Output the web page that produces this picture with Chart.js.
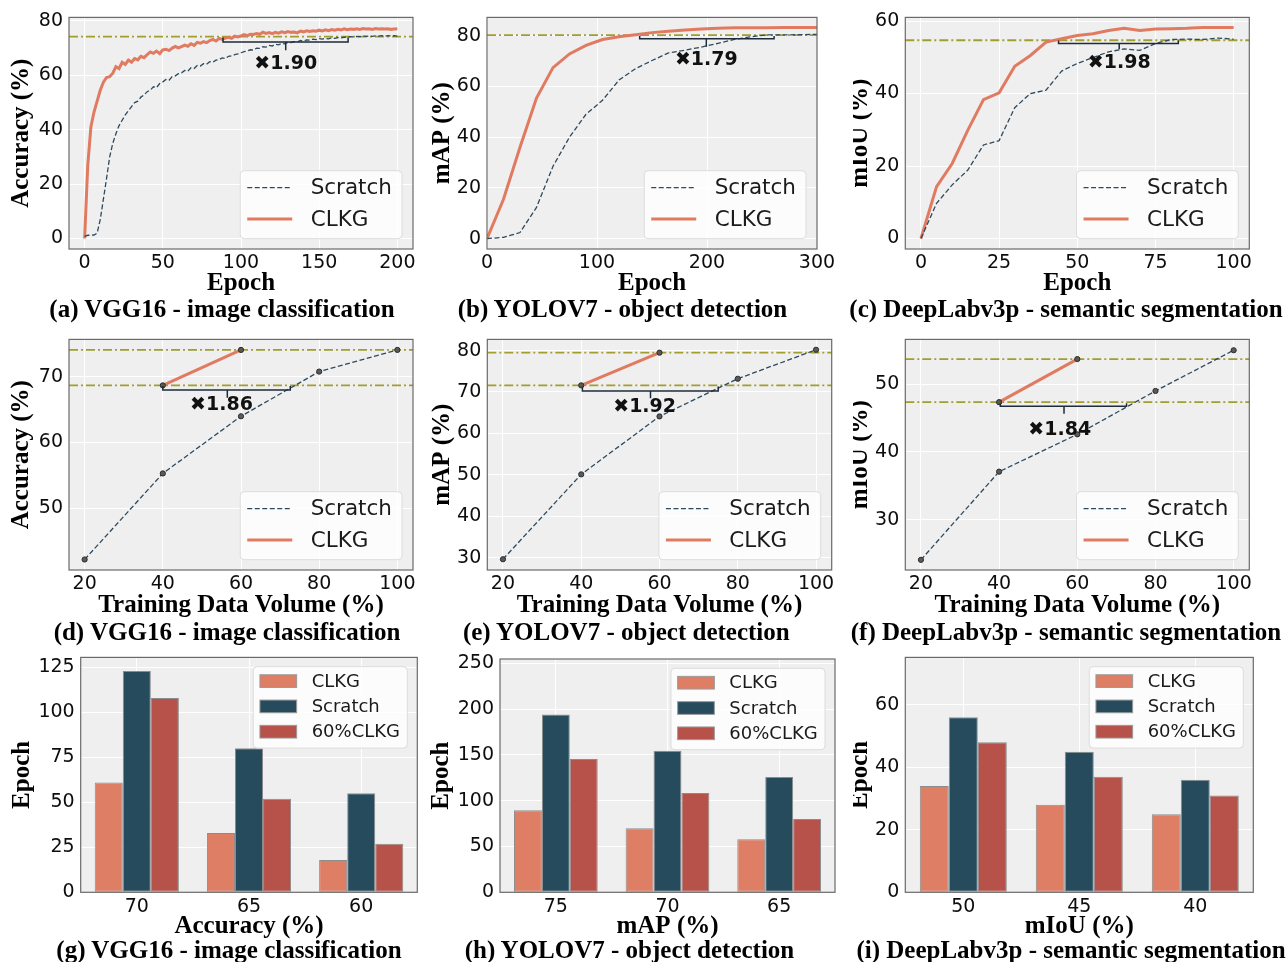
<!DOCTYPE html>
<html><head><meta charset="utf-8">
<script src="https://cdn.jsdelivr.net/npm/chart.js@4/dist/chart.umd.min.js"></script>
<style>
body{margin:0;background:#fff;width:1286px;height:962px;position:relative;overflow:hidden}
canvas{position:absolute}
.cap{position:absolute;font:bold 25px 'Liberation Serif',serif;white-space:nowrap;transform:translate(-50%,-50%);color:#000;line-height:30px}
</style></head><body>
<script>
// ---------------- DATA ----------------
// (a) VGG16 training curves
const epochsA = [0,2,4,6,8,10,12,14,16,18,20,22,24,26,28,30,32,34,36,38,40,42,44,46,48,50,52,54,56,58,60,62,64,66,68,70,72,74,76,78,80,82,84,86,88,90,92,94,96,98,100,102,104,106,108,110,112,114,116,118,120,122,124,126,128,130,132,134,136,138,140,142,144,146,148,150,152,154,156,158,160,162,164,166,168,170,172,174,176,178,180,182,184,186,188,190,192,194,196,198,200];
const clkgA = [0,27,41,46.5,50.5,54.5,57.5,59.2,59.5,60.8,63.2,62.5,64.8,64.0,65.6,64.8,66.2,65.7,67.0,66.5,67.6,68.6,68.1,68.9,68.0,69.4,69.6,69.1,70.0,70.6,70.1,70.6,71.1,70.7,71.6,71.0,72.1,71.8,72.4,72.0,72.8,73.2,72.6,73.6,73.2,73.7,74.0,73.6,74.4,74.1,74.5,75.0,74.6,75.1,75.0,75.4,75.1,75.9,75.4,75.7,75.3,75.8,75.5,76.0,75.7,76.1,75.8,75.9,75.6,76.3,76.0,76.4,76.1,76.4,76.2,76.6,76.3,76.7,76.4,76.8,76.6,76.9,76.7,77.1,76.8,77.0,76.9,77.1,76.9,77.2,77.0,77.1,76.9,77.2,77.0,77.1,77.0,77.1,76.9,77.0,77.1];
const scratchA = [0.8,1.2,1.2,1.3,2.0,7.0,14.5,22.0,30.0,35.0,38.5,41.5,43.5,45.5,47.0,48.5,50.0,50.5,52.0,52.8,54.0,54.6,55.8,55.5,57.0,57.6,58.5,58.2,59.5,59.8,60.6,60.9,61.8,61.5,62.8,62.5,63.6,63.4,64.3,64.1,65.0,64.8,65.6,65.8,66.4,66.2,67.0,67.2,67.6,67.9,68.3,68.7,69.0,69.4,69.3,70.0,69.9,70.5,70.4,71.0,70.8,71.4,71.2,71.8,71.6,72.1,72.0,72.4,72.3,72.8,72.6,73.0,72.9,73.3,73.1,73.5,73.3,73.6,73.4,73.8,73.6,73.9,73.8,74.0,73.9,74.2,74.1,74.3,74.2,74.4,74.3,74.5,74.3,74.5,74.4,74.6,74.4,74.6,74.5,74.6,74.4];
// (b) YOLOV7 training curves
const epochsB = [0,15,30,45,60,75,90,105,120,135,150,165,180,195,210,225,240,255,270,285,300];
const clkgB = [0,15.5,36,55.4,67.4,72.8,76.2,78.5,79.6,80.4,81.2,81.7,82.2,82.6,82.9,83.1,83.1,83.1,83.2,83.2,83.2];
const scratchB = [0,0.5,2.4,12.3,28.5,40,49,54.5,62.5,67,70.2,73.2,74.3,75.5,77.0,78.5,79.6,80.3,80.3,80.4,80.5];
// (c) DeepLabv3p training curves
const epochsC = [0,5,10,15,20,25,30,35,40,45,50,55,60,65,70,75,80,85,90,95,100];
const clkgC = [0,14.3,20.7,29.9,38.3,40.2,47.5,50.5,54.2,55.1,56.0,56.5,57.4,58.0,57.4,57.8,57.9,58.0,58.2,58.2,58.2];
const scratchC = [0,9.7,14.8,18.9,25.8,27.0,36.1,40.0,40.9,46.2,48.3,49.9,51.5,52.3,51.9,53.8,54.9,55.0,54.9,55.3,55.0];
// (d)(e)(f) training data volume
const volumes = [20,40,60,80,100];
const clkgVolumes = [40,60];
const scratchD = [42.2,55.3,64.0,70.8,74.1];
const clkgD = [68.7,74.1];
const scratchE = [29.6,50.1,64.1,73.2,80.2];
const clkgE = [71.6,79.5];
const scratchF = [24.1,37.1,42.6,49.0,55.0];
const clkgF = [47.35,53.7];
// reference (dash-dot) levels
const refA = [74.2], refB = [80.25], refC = [54.7];
const refD = [74.1,68.7], refE = [79.5,71.6], refF = [53.7,47.35];
// speed-up brackets [x0, x1, yBar, yEnds, xMid, yTick] and labels [text, x, y]
const bracketA = [88.5,168.5,72.3,73.9,128.6,69.2], labelA = ['✖1.90',128.6,64.3];
const bracketB = [138.8,261,78.8,79.9,199.4,75.6], labelB = ['✖1.79',199.4,70.5];
const bracketC = [44,82.3,53.8,54.6,63.4,52.2], labelC = ['✖1.98',63.4,48.3];
const bracketD = [40,72.6,68.0,68.6,56.5,66.8], labelD = ['✖1.86',55.0,65.7];
const bracketE = [40.3,75,70.25,71.3,57.7,68.5], labelE = ['✖1.92',56.2,66.3];
const bracketF = [40.3,72.6,46.75,47.2,56.6,45.65], labelF = ['✖1.84',55.5,43.3];
// (g)(h)(i) epochs needed to reach target
const catsG = ['70','65','60'], catsH = ['75','70','65'], catsI = ['50','45','40'];
const barClkgG = [61,33,18], barScratchG = [123,80,55], bar60G = [108,52,27];
const barClkgH = [89.5,70,58], barScratchH = [194,154.5,126], bar60H = [145.5,108.5,80];
const barClkgI = [34,28,25], barScratchI = [56,45,36], bar60I = [48,37,31];
// tick labels
const xTicksA = [0,50,100,150,200], yTicksA = [0,20,40,60,80];
const xTicksB = [0,100,200,300], yTicksB = [0,20,40,60,80];
const xTicksC = [0,25,50,75,100], yTicksC = [0,20,40,60];
const xTicksVol = [20,40,60,80,100];
const yTicksD = [50,60,70], yTicksE = [30,40,50,60,70,80], yTicksF = [30,40,50];
const yTicksG = [0,25,50,75,100,125], yTicksH = [0,50,100,150,200,250], yTicksI = [0,20,40,60];
const subtitles = ['(a) VGG16 - image classification','(b) YOLOV7 - object detection','(c) DeepLabv3p - semantic segmentation',
 '(d) VGG16 - image classification','(e) YOLOV7 - object detection','(f) DeepLabv3p - semantic segmentation',
 '(g) VGG16 - image classification','(h) YOLOV7 - object detection','(i) DeepLabv3p - semantic segmentation'];

// ---------------- STYLE / LAYOUT ----------------
const C_CLKG = '#E07B62', C_SCR = '#2E4A5E', C_BAR_CLKG = '#DE7E65', C_BAR_SCR = '#254B5D', C_BAR_60 = '#B6524A';
const TICK_FONT = {family:'DejaVu Sans', size:19};
const TITLE_FONT = {family:'Liberation Serif', size:25, weight:'bold'};

const frameBg = {
  id:'frameBg',
  beforeDraw(chart){const {ctx,chartArea:a}=chart;ctx.save();ctx.fillStyle='#EFEFEF';ctx.fillRect(a.left,a.top,a.width,a.height);ctx.restore();},
  afterDraw(chart){const {ctx,chartArea:a}=chart;ctx.save();ctx.strokeStyle='#6a6a6a';ctx.lineWidth=1.2;ctx.strokeRect(a.left,a.top,a.width,a.height);ctx.restore();}
};
const annoPlugin = {
  id:'anno',
  beforeDatasetsDraw(chart,args,o){
    if(!o||!o.refs) return;
    const {ctx,chartArea:a,scales:{y}}=chart;
    ctx.save();ctx.strokeStyle='#A29E2E';ctx.lineWidth=1.8;ctx.setLineDash([9,3,2,3]);
    o.refs.forEach(v=>{const py=y.getPixelForValue(v);ctx.beginPath();ctx.moveTo(a.left,py);ctx.lineTo(a.right,py);ctx.stroke();});
    ctx.restore();
  },
  afterDatasetsDraw(chart,args,o){
    if(!o||!o.bracket) return;
    const {ctx,scales:{x,y}}=chart;
    const X=v=>x.getPixelForValue(v), Y=v=>y.getPixelForValue(v);
    const [x0,x1,yH,yTop,xm,yT]=o.bracket;
    ctx.save();ctx.strokeStyle='#1d2b3a';ctx.lineWidth=1.5;ctx.setLineDash([]);
    ctx.beginPath();ctx.moveTo(X(x0),Y(yTop));ctx.lineTo(X(x0),Y(yH));ctx.lineTo(X(x1),Y(yH));ctx.lineTo(X(x1),Y(yTop));
    ctx.moveTo(X(xm),Y(yH));ctx.lineTo(X(xm),Y(yT));ctx.stroke();
    const [t,lx,ly]=o.label;
    ctx.fillStyle='#111';ctx.font='bold 19px "DejaVu Sans"';ctx.textAlign='center';ctx.textBaseline='middle';
    ctx.fillText(t,X(lx),Y(ly));
    ctx.restore();
  }
};
const legendPlugin = {
  id:'boxLegend',
  afterDraw(chart,args,o){
    if(!o||!o.kind) return;
    const {ctx,chartArea:a}=chart; const ds=chart.data.datasets;
    ctx.save(); ctx.font=o.font;
    const tw=Math.max(...ds.map(d=>ctx.measureText(d.label).width));
    const w=o.textStart+tw+o.padR, h=o.h;
    const x=a.right-o.mr-w, y=o.kind==='line'? a.bottom-o.mb-h : a.top+o.mt;
    ctx.beginPath(); if(ctx.roundRect) ctx.roundRect(x,y,w,h,4); else ctx.rect(x,y,w,h);
    ctx.fillStyle='rgba(255,255,255,0.8)'; ctx.fill(); ctx.strokeStyle='#dcdcdc'; ctx.lineWidth=1; ctx.stroke();
    ds.forEach((d,i)=>{
      const cy=y+o.row0+i*o.rowH;
      if(o.kind==='line'){
        ctx.save();ctx.setLineDash(d.borderDash||[]);ctx.strokeStyle=d.borderColor;ctx.lineWidth=d.borderWidth;
        ctx.beginPath();ctx.moveTo(x+o.s0,cy);ctx.lineTo(x+o.s1,cy);ctx.stroke();ctx.restore();
      } else {
        ctx.fillStyle=d.backgroundColor;ctx.fillRect(x+o.s0,cy-o.ph/2,o.s1-o.s0,o.ph);
        ctx.strokeStyle='#9a9a9a';ctx.lineWidth=1;ctx.strokeRect(x+o.s0,cy-o.ph/2,o.s1-o.s0,o.ph);
      }
      ctx.fillStyle='#1a1a1a';ctx.textAlign='left';ctx.textBaseline='middle';
      ctx.fillText(d.label,x+o.textStart,cy+1);
    });
    ctx.restore();
  }
};
const LINE_LEG = {kind:'line',font:'21.5px "DejaVu Sans"',mr:11,mb:10.3,h:68,row0:17,rowH:31.3,s0:7,s1:52,textStart:70.4,padR:10};
const BAR_LEG = {kind:'bar',font:'18px "DejaVu Sans"',mr:10,mt:9.3,h:81.4,row0:14.4,rowH:25.3,s0:6.7,s1:43.4,ph:12.7,textStart:58.4,padR:7.3};

const COLS=[{l:0,w:430},{l:430,w:426},{l:853,w:433}];
const ROWS=[{t:0,h:299,xt:284,st:309.3},{t:322,h:299,xt:606,st:631.7},{t:640,h:303,xt:927,st:950}];

function makeCanvas(col,row,plot,yTitleX){
  const c={l:COLS[col].l,w:COLS[col].w,t:ROWS[row].t,h:ROWS[row].h};
  const xt=ROWS[row].xt;
  const cv=document.createElement('canvas');
  cv.width=c.w;cv.height=c.h;cv.style.left=c.l+'px';cv.style.top=c.t+'px';cv.style.width=c.w+'px';cv.style.height=c.h+'px';
  document.body.appendChild(cv);
  return {cv,geo:{padding:{left:0,top:plot.t-c.t,right:c.l+c.w-plot.r,bottom:c.t+c.h-(xt+15)},
    yW:plot.l-c.l, xH:xt+15-plot.b, yTitlePad:yTitleX-c.l-15}};
}
function linScale(axis,min,max,ticks,title,geo){
  return {type:'linear',min,max,
    afterBuildTicks:s=>{s.ticks=ticks.map(v=>({value:v}));},
    afterFit:s=>{if(axis==='x') s.height=geo.xH; else s.width=geo.yW;},
    grid:{color:'rgba(255,255,255,0.95)',lineWidth:1,drawTicks:false},
    border:{display:false},
    ticks:{font:TICK_FONT,color:'#0d0d0d',padding:axis==='x'?3:6,autoSkip:false,maxRotation:0},
    title:{display:true,text:title,font:TITLE_FONT,color:'#000',padding:axis==='x'?{top:0,bottom:0}:{top:geo.yTitlePad,bottom:0}}};
}
function xy(xs,ys){return xs.map((v,i)=>({x:v,y:ys[i]}));}
function lineChart(col,row,plot,yTitleX,opt){
  const {cv,geo}=makeCanvas(col,row,plot,yTitleX);
  const mk=opt.markers?2.6:0;
  new Chart(cv,{type:'line',
    data:{datasets:[
      {label:'Scratch',data:opt.scratch,borderColor:C_SCR,borderWidth:1.3,borderDash:[5,2.5],pointRadius:mk,pointBackgroundColor:'#5b5b5b',pointBorderColor:'#2b2b2b',pointBorderWidth:1,tension:0,fill:false},
      {label:'CLKG',data:opt.clkg,borderColor:C_CLKG,borderWidth:3,pointRadius:mk,pointBackgroundColor:'#5b5b4b',pointBorderColor:'#2b2b2b',pointBorderWidth:1,tension:0,fill:false}]},
    options:{responsive:false,animation:false,devicePixelRatio:1,layout:{padding:geo.padding},
      scales:{x:linScale('x',opt.xr[0],opt.xr[1],opt.xt,opt.xTitle,geo),y:linScale('y',opt.yr[0],opt.yr[1],opt.yt,opt.yTitle,geo)},
      plugins:{legend:{display:false},tooltip:{enabled:false},anno:{refs:opt.refs,bracket:opt.bracket,label:opt.label},boxLegend:LINE_LEG}},
    plugins:[frameBg,annoPlugin,legendPlugin]});
}
function barChart(col,row,plot,yTitleX,opt){
  const {cv,geo}=makeCanvas(col,row,plot,yTitleX);
  const bs={borderColor:'#8c8c8c',borderWidth:1,borderSkipped:false,categoryPercentage:0.75,barPercentage:1.0};
  const ys=linScale('y',0,opt.ymax,opt.yt,'Epoch',geo);
  new Chart(cv,{type:'bar',
    data:{labels:opt.cats,datasets:[
      Object.assign({label:'CLKG',data:opt.c,backgroundColor:C_BAR_CLKG},bs),
      Object.assign({label:'Scratch',data:opt.s,backgroundColor:C_BAR_SCR},bs),
      Object.assign({label:'60%CLKG',data:opt.p,backgroundColor:C_BAR_60},bs)]},
    options:{responsive:false,animation:false,devicePixelRatio:1,layout:{padding:geo.padding},
      scales:{x:{type:'category',offset:true,afterFit:s=>{s.height=geo.xH;},
        grid:{color:'rgba(255,255,255,0.95)',offset:false,drawTicks:false},border:{display:false},
        ticks:{font:TICK_FONT,color:'#0d0d0d',padding:3,maxRotation:0},
        title:{display:true,text:opt.xTitle,font:TITLE_FONT,color:'#000',padding:{top:0,bottom:0}}},
        y:ys},
      plugins:{legend:{display:false},tooltip:{enabled:false},boxLegend:BAR_LEG}},
    plugins:[frameBg,legendPlugin]});
}

// Row 1
lineChart(0,0,{l:69,t:17,r:413,b:249},22,{scratch:xy(epochsA,scratchA),clkg:xy(epochsA,clkgA),xr:[-10,210],yr:[-3.85,81.3],xt:xTicksA,yt:yTicksA,xTitle:'Epoch',yTitle:'Accuracy (%)',refs:refA,bracket:bracketA,label:labelA});
lineChart(1,0,{l:487,t:13,r:817,b:249},443,{scratch:xy(epochsB,scratchB),clkg:xy(epochsB,clkgB),xr:[0,300],yr:[-4.1,87.2],xt:xTicksB,yt:yTicksB,xTitle:'Epoch',yTitle:'mAP (%)',refs:refB,bracket:bracketB,label:labelB});
lineChart(2,0,{l:905.3,t:17,r:1249.3,b:249},861,{scratch:xy(epochsC,scratchC),clkg:xy(epochsC,clkgC),xr:[-5,105],yr:[-2.9,61],xt:xTicksC,yt:yTicksC,xTitle:'Epoch',yTitle:'mIoU (%)',refs:refC,bracket:bracketC,label:labelC});
// Row 2
lineChart(0,1,{l:69,t:333,r:413,b:570},22,{markers:true,scratch:xy(volumes,scratchD),clkg:xy(clkgVolumes,clkgD),xr:[16,104],yr:[40.6,75.7],xt:xTicksVol,yt:yTicksD,xTitle:'Training Data Volume (%)',yTitle:'Accuracy (%)',refs:refD,bracket:bracketD,label:labelD});
lineChart(1,1,{l:487.3,t:334,r:831.7,b:570},443,{markers:true,scratch:xy(volumes,scratchE),clkg:xy(clkgVolumes,clkgE),xr:[16,104],yr:[27,82.7],xt:xTicksVol,yt:yTicksE,xTitle:'Training Data Volume (%)',yTitle:'mAP (%)',refs:refE,bracket:bracketE,label:labelE});
lineChart(2,1,{l:905.3,t:333.3,r:1249.3,b:570},861,{markers:true,scratch:xy(volumes,scratchF),clkg:xy(clkgVolumes,clkgF),xr:[16,104],yr:[22.6,56.6],xt:xTicksVol,yt:yTicksF,xTitle:'Training Data Volume (%)',yTitle:'mIoU (%)',refs:refF,bracket:bracketF,label:labelF});
// Row 3
barChart(0,2,{l:80.7,t:655,r:417.3,b:892.3},22.5,{cats:catsG,c:barClkgG,s:barScratchG,p:bar60G,ymax:130.5,yt:yTicksG,xTitle:'Accuracy (%)'});
barChart(1,2,{l:500,t:659,r:835,b:892.3},442,{cats:catsH,c:barClkgH,s:barScratchH,p:bar60H,ymax:254.7,yt:yTicksH,xTitle:'mAP (%)'});
barChart(2,2,{l:905.3,t:655,r:1253.3,b:892.3},861,{cats:catsI,c:barClkgI,s:barScratchI,p:bar60I,ymax:75.2,yt:yTicksI,xTitle:'mIoU (%)'});

// Subtitles
const capX=[222,622.5,1066,227,626.3,1066,229,629.5,1071];
subtitles.forEach((t,i)=>{const d=document.createElement('div');d.className='cap';d.textContent=t;
  d.style.left=capX[i]+'px';d.style.top=ROWS[Math.floor(i/3)].st+'px';document.body.appendChild(d);});
</script>
</body></html>
